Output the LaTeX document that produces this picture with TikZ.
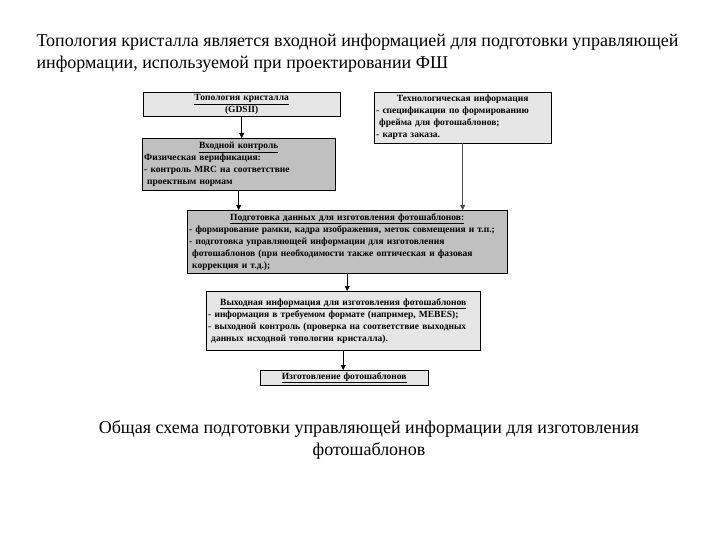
\documentclass[tikz,border=0pt]{standalone}
\usepackage{fontspec}
\IfFontExistsTF{LiberationSerif-Regular.ttf}
  {\setmainfont{LiberationSerif}[Extension=.ttf, UprightFont=*-Regular,
     BoldFont=*-Bold, ItalicFont=*-Italic, BoldItalicFont=*-BoldItalic]}
  {\setmainfont{Liberation Serif}}
\usepackage{tikz}
\usetikzlibrary{shadows}
\usetikzlibrary{arrows.meta}

\definecolor{lightbox}{HTML}{E6E6E6}
\definecolor{darkbox}{HTML}{C0C0C0}

\tikzset{
  box/.style={draw, anchor=north west, inner xsep=2pt, inner ysep=1pt, align=left,
    font=\fontsize{9.5}{12}\selectfont\bfseries,
    drop shadow={shadow xshift=1.2pt, shadow yshift=-1.2pt, opacity=1, fill=black!75}},
  arr/.style={-{Triangle[length=5pt,width=5pt]}, line width=0.5pt}
}

\begin{document}
\begin{tikzpicture}[x=1pt,y=-1pt]
\useasboundingbox (0,0) rectangle (720,540);

% heading and caption
\node[anchor=north west, align=left, font=\rmfamily\fontsize{18}{22}\selectfont] (head) at (33,30)
  {Топология кристалла является входной информацией для подготовки управляющей\\
   информации, используемой при проектировании ФШ};
\node[anchor=north, align=center, font=\rmfamily\fontsize{18}{22}\selectfont] (caption) at (369,417)
  {Общая схема подготовки управляющей информации для изготовления\\ фотошаблонов};

% blocks
\node[box, fill=lightbox, text width=193pt, minimum height=24pt, align=center] (topo) at (143,92)
  {\underline{Топология кристалла}\\(GDSII)};
\node[box, fill=lightbox, text width=173pt, minimum height=51pt] (tech) at (374,92)
  {\centerline{Технологическая информация}
   - спецификации по формированию\\
   \hspace*{3pt}фрейма для фотошаблонов;\\
   - карта заказа.};
\node[box, fill=darkbox, text width=189pt, minimum height=52pt] (ctrl) at (142,138)
  {\centerline{\underline{Входной контроль}}
   Физическая верификация:\\
   - контроль MRC на соответствие\\
   \hspace*{3pt}проектным нормам};
\node[box, fill=darkbox, text width=316pt, minimum height=63pt] (prep) at (187,210)
  {\centerline{\underline{Подготовка данных для изготовления фотошаблонов:}}
   - формирование рамки, кадра изображения, меток совмещения и т.п.;\\
   - подготовка управляющей информации для изготовления\\
   \hspace*{3pt}фотошаблонов (при необходимости также оптическая и фазовая\\
   \hspace*{3pt}коррекция и т.д.);};
\node[box, fill=lightbox, text width=270pt, minimum height=59pt] (out) at (206,291)
  {\centerline{\underline{Выходная информация для изготовления фотошаблонов}}
   - информация в требуемом формате (например, MEBES);\\
   - выходной контроль (проверка на соответствие выходных\\
   \hspace*{3pt}данных исходной топологии кристалла).};
\node[box, fill=lightbox, text width=164pt, minimum height=15pt, align=center] (make) at (260,370)
  {\underline{Изготовление фотошаблонов}};

% connectors
\draw[arr] (topo.south) -- (topo.south |- ctrl.north);
\draw[arr] (ctrl.south) -- (ctrl.south |- prep.north);
\draw[arr, draw=black!70] (tech.south) -- (tech.south |- prep.north);
\draw[arr] (prep.south) -- (prep.south |- out.north);
\draw[arr] (out.south) -- (out.south |- make.north);
\end{tikzpicture}
\end{document}
